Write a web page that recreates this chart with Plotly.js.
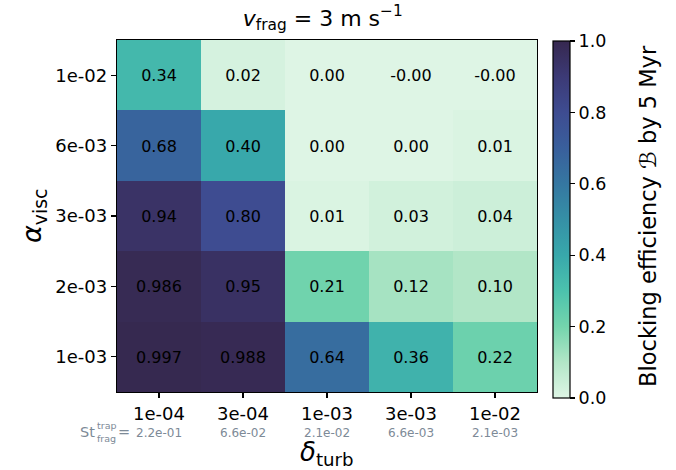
<!DOCTYPE html>
<html><head><meta charset="utf-8">
<script src="https://cdn.plot.ly/plotly-3.0.1.min.js"></script>
<style>html,body{margin:0;padding:0;background:#fff}</style>
</head><body>
<div id="chart" style="width:676px;height:470px"></div>
<script>
const deltaTurb = ['1e-04','3e-04','1e-03','3e-03','1e-02'];
const stFrag = ['2.2e-01','6.6e-02','2.1e-02','6.6e-03','2.1e-03'];
const alphaVisc = ['1e-03','2e-03','3e-03','6e-03','1e-02'];
// rows bottom (1e-03) to top (1e-02)
const row1e3 = [0.997, 0.988, 0.64, 0.36, 0.22];
const row2e3 = [0.986, 0.95, 0.21, 0.12, 0.10];
const row3e3 = [0.94, 0.80, 0.01, 0.03, 0.04];
const row6e3 = [0.68, 0.40, 0.00, 0.00, 0.01];
const row1e2 = [0.34, 0.02, 0.00, -0.001, -0.001];
const lab1e3 = ['0.997','0.988','0.64','0.36','0.22'];
const lab2e3 = ['0.986','0.95','0.21','0.12','0.10'];
const lab3e3 = ['0.94','0.80','0.01','0.03','0.04'];
const lab6e3 = ['0.68','0.40','0.00','0.00','0.01'];
const lab1e2 = ['0.34','0.02','0.00','-0.00','-0.00'];

const z = [row1e3, row2e3, row3e3, row6e3, row1e2];
const txt = [lab1e3, lab2e3, lab3e3, lab6e3, lab1e2];

const cscale = [
  [0.0,'#DEF5E5'],[0.1,'#B2E6C7'],[0.2,'#74D5AD'],[0.3,'#4CC2AD'],
  [0.4,'#38A8AB'],[0.5,'#3590A6'],[0.6,'#3577A1'],[0.7,'#395F9C'],
  [0.8,'#3E4C91'],[0.9,'#3C3A76'],[1.0,'#36284F']
];

const gray = '#7d8a97';
const font = 'DejaVu Sans';

const annotations = [];
deltaTurb.forEach((d,i)=>{
  annotations.push({x:i, xref:'x', y:-0.117, yref:'paper', text:stFrag[i], showarrow:false,
    font:{family:font,size:12,color:gray}, xanchor:'center', yanchor:'middle'});
});
annotations.push({x:-0.05, xref:'paper', y:-0.114, yref:'paper', text:'St', showarrow:false,
  font:{family:font,size:14.5,color:gray}, xanchor:'right', yanchor:'middle', borderpad:0});
annotations.push({x:-0.05, xref:'paper', y:-0.095, yref:'paper', text:'trap', showarrow:false,
  font:{family:font,size:9.5,color:gray}, xanchor:'left', yanchor:'middle', borderpad:0});
annotations.push({x:-0.05, xref:'paper', y:-0.131, yref:'paper', text:'frag', showarrow:false,
  font:{family:font,size:9.5,color:gray}, xanchor:'left', yanchor:'middle', borderpad:0});
annotations.push({x:0.0, xref:'paper', y:-0.114, yref:'paper', text:'=', showarrow:false,
  font:{family:font,size:14.5,color:gray}, xanchor:'left', yanchor:'middle', borderpad:0});
annotations.push({x:0.5, xref:'paper', y:-0.176, yref:'paper', text:'<i>δ</i><sub>turb</sub>', showarrow:false,
  font:{family:font,size:26,color:'#000'}, xanchor:'center', yanchor:'middle', borderpad:0});
annotations.push({x:-0.2, xref:'paper', y:0.5, yref:'paper', text:'<i>α</i><sub>visc</sub>', showarrow:false,
  textangle:-90, font:{family:font,size:27,color:'#000'}, xanchor:'center', yanchor:'middle'});
annotations.push({x:1.264, xref:'paper', y:0.5, yref:'paper', text:'Blocking efficiency <i>ℬ</i> by 5 Myr', showarrow:false,
  textangle:-90, font:{family:font,size:22.5,color:'#000'}, xanchor:'center', yanchor:'middle'});

const trace = {
  type:'heatmap', x:deltaTurb, y:alphaVisc, z:z, text:txt, texttemplate:'%{text}',
  textfont:{family:font,size:16,color:'#000'},
  colorscale:cscale, zmin:0, zmax:1, xgap:0, ygap:0, hoverinfo:'skip',
  colorbar:{
    x:1.038, xanchor:'left', xref:'paper', y:-0.017, yanchor:'bottom', len:1.014, lenmode:'fraction',
    xpad:0, ypad:0,
    thickness:17, thicknessmode:'pixels', outlinewidth:1.2, outlinecolor:'#000',
    ticks:'outside', ticklen:5, tickwidth:1.2, tickcolor:'#000',
    tickvals:[0,0.2,0.4,0.6,0.8,1.0], ticktext:['0.0','0.2','0.4','0.6','0.8','1.0'],
    tickfont:{family:font,size:17.5,color:'#000'}
  }
};

const layout = {
  width:676, height:470,
  margin:{l:117, r:139, t:40, b:78},
  paper_bgcolor:'#fff', plot_bgcolor:'#fff',
  font:{family:font},
  title:{text:'<i>v</i><sub>frag</sub> = 3 m s<sup>−1</sup>', x:0.49, xref:'paper', xanchor:'center',
    y:1-18/470, yanchor:'middle', font:{family:font,size:22,color:'#000'}},
  xaxis:{type:'category', showline:true, mirror:true, linecolor:'#000', linewidth:1.2,
    ticks:'outside', ticklen:5, tickwidth:1.2, tickcolor:'#000', showgrid:false, zeroline:false,
    tickfont:{family:font,size:18,color:'#000'}, fixedrange:true},
  yaxis:{type:'category', showline:true, mirror:true, linecolor:'#000', linewidth:1.2,
    ticks:'outside', ticklen:5, tickwidth:1.2, tickcolor:'#000', showgrid:false, zeroline:false,
    tickfont:{family:font,size:18,color:'#000'}, fixedrange:true},
  annotations:annotations,
  showlegend:false
};

Plotly.newPlot('chart',[trace],layout,{displayModeBar:false, staticPlot:true});
</script>
</body></html>
